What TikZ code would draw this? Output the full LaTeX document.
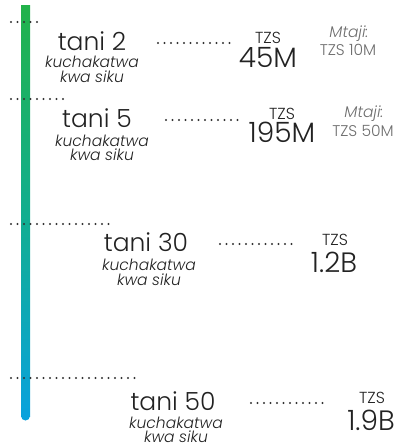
\documentclass[tikz,border=0pt]{standalone}
\usepackage{fontspec}
\setmainfont{Poppins}[UprightFont=* Light, ItalicFont=* Light Italic]
\definecolor{txt}{HTML}{222222}
\definecolor{grayt}{HTML}{6E6E6E}
\definecolor{dotc}{HTML}{333333}
\definecolor{gtop}{HTML}{22B24A}
\definecolor{gmid}{HTML}{12AE8E}
\definecolor{gbot}{HTML}{0AA2DC}
\tikzset{
  dots/.style={dotc, line width=2.2pt, line cap=round, dash pattern=on 0pt off 6.5pt},
  big/.style={anchor=base, inner sep=0pt, text=txt, font=\fontsize{25}{25}\selectfont},
  sub/.style={anchor=base, inner sep=0pt, text=txt, text height=9pt, text depth=1pt, font=\fontsize{15.5}{16}\selectfont\itshape},
  cur/.style={anchor=base, inner sep=0pt, text=txt, font=\fontsize{16}{16}\selectfont},
  amt/.style={anchor=base, inner sep=0pt, text=txt, font=\fontsize{28}{28}\selectfont},
  capt/.style={anchor=base, inner sep=0pt, text=grayt, font=\fontsize{15.5}{16}\selectfont},
}
\begin{document}
\begin{tikzpicture}[x=1pt,y=-1pt]
\useasboundingbox (0,0) rectangle (407,448);
% gradient bar
\shade[top color=gtop, bottom color=gbot, middle color=gmid]
  (21,5) rectangle (30,416);
\fill[gbot] (25.5,416) circle (4.5);
% bar ticks
\coordinate (t1a) at (11,22);  \coordinate (t1b) at (38,22);
\coordinate (t2a) at (11,99);  \coordinate (t2b) at (64,99);
\coordinate (t3a) at (11,224); \coordinate (t3b) at (110,224);
\coordinate (t4a) at (11,378); \coordinate (t4b) at (137,378);
\draw[dots] (t1a) -- (t1b);
\draw[dots] (t2a) -- (t2b);
\draw[dots] (t3a) -- (t3b);
\draw[dots] (t4a) -- (t4b);
% row 1
\node[big] (n1) at (92,50) {tani 2};
\node[sub] (s1a) at (92,67) {kuchakatwa};
\node[sub] (s1b) at (92,82) {kwa siku};
\node[cur] (c1) at (268,43) {TZS};
\node[amt] (a1) at (268,67) {45M};
\node[capt] (m1a) at (349,37) {\itshape Mtaji:};
\node[capt] (m1b) at (348,55) {TZS 10M};
\coordinate (d1a) at (158,43); \coordinate (d1b) at (232,43);
\draw[dots] (d1a) -- (d1b);
% row 2
\node[big] (n2) at (97,127) {tani 5};
\node[sub] (s2a) at (102,146) {kuchakatwa};
\node[sub] (s2b) at (102,160) {kwa siku};
\node[cur] (c2) at (282,119) {TZS};
\node[amt] (a2) at (282,142) {195M};
\node[capt] (m2a) at (364,117) {\itshape Mtaji:};
\node[capt] (m2b) at (363,136) {TZS 50M};
\coordinate (d2a) at (166,120); \coordinate (d2b) at (240,120);
\draw[dots] (d2a) -- (d2b);
% row 3
\node[big] (n3) at (146,251) {tani 30};
\node[sub] (s3a) at (149,270) {kuchakatwa};
\node[sub] (s3b) at (149,285) {kwa siku};
\node[cur] (c3) at (335,245) {TZS};
\node[amt] (a3) at (334,272) {1.2B};
\coordinate (d3a) at (220,244); \coordinate (d3b) at (296,244);
\draw[dots] (d3a) -- (d3b);
% row 4
\node[big] (n4) at (173,410) {tani 50};
\node[sub] (s4a) at (176,428) {kuchakatwa};
\node[sub] (s4b) at (176,442) {kwa siku};
\node[cur] (c4) at (372,403) {TZS};
\node[amt] (a4) at (371,430) {1.9B};
\coordinate (d4a) at (251,403); \coordinate (d4b) at (327,403);
\draw[dots] (d4a) -- (d4b);
\end{tikzpicture}
\end{document}
